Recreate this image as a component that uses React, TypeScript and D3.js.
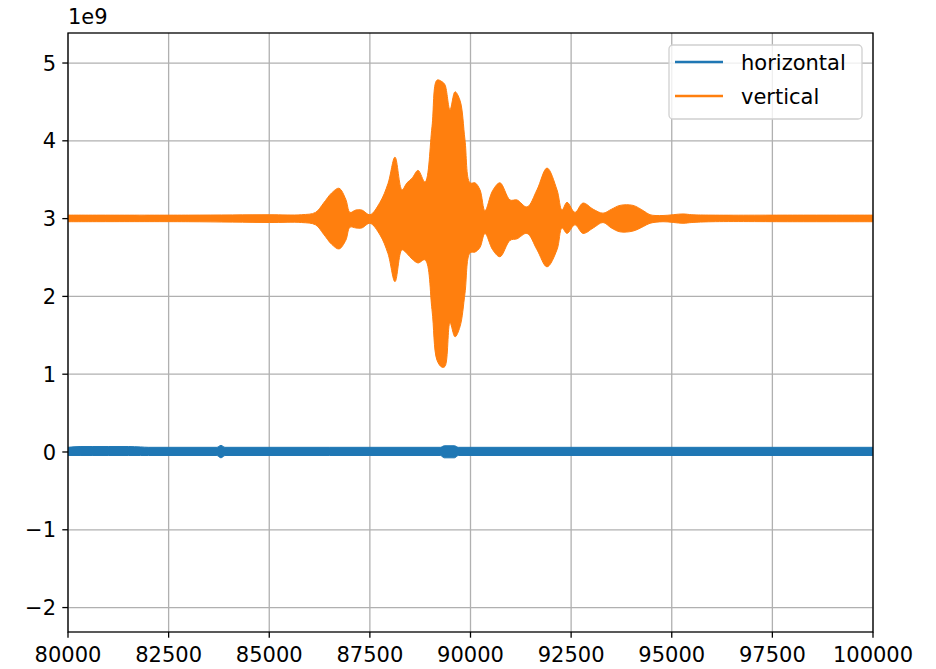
import React from "react";
import * as d3 from "d3";

const xTicks = [80000, 82500, 85000, 87500, 90000, 92500, 95000, 97500, 100000];
const yTicks = [-2, -1, 0, 1, 2, 3, 4, 5];

// vertical series envelope (units of 1e9)
const vTime = [80000, 83000, 85000, 85800, 86150, 86350, 86550, 86733, 86900, 87006, 87150, 87300, 87503, 87752, 87950, 88124, 88298, 88422, 88550, 88696, 88870, 89043, 89168, 89292, 89366, 89491, 89615, 89739, 89863, 89988, 90112, 90236, 90360, 90550, 90733, 90981, 91155, 91404, 91652, 91901, 92149, 92273, 92398, 92596, 92795, 93050, 93292, 93500, 93714, 94037, 94300, 94460, 94783, 95280, 95500, 96000, 98000, 100000];
const vUpper = [3.045, 3.045, 3.05, 3.05, 3.08, 3.20, 3.33, 3.39, 3.25, 3.08, 3.11, 3.11, 3.05, 3.21, 3.45, 3.79, 3.37, 3.46, 3.52, 3.62, 3.47, 4.18, 4.78, 4.76, 4.72, 4.40, 4.63, 4.52, 4.01, 3.46, 3.46, 3.37, 3.10, 3.36, 3.46, 3.24, 3.24, 3.15, 3.37, 3.65, 3.37, 3.11, 3.21, 3.08, 3.20, 3.12, 3.07, 3.12, 3.17, 3.17, 3.10, 3.05, 3.04, 3.06, 3.05, 3.045, 3.045, 3.045];
const vLower = [2.96, 2.96, 2.95, 2.95, 2.92, 2.80, 2.67, 2.61, 2.72, 2.89, 2.88, 2.88, 2.94, 2.79, 2.55, 2.19, 2.60, 2.55, 2.48, 2.43, 2.47, 1.83, 1.18, 1.09, 1.10, 1.66, 1.48, 1.61, 2.04, 2.56, 2.57, 2.63, 2.81, 2.60, 2.51, 2.72, 2.74, 2.81, 2.60, 2.38, 2.60, 2.88, 2.81, 2.92, 2.81, 2.88, 2.95, 2.88, 2.83, 2.84, 2.90, 2.94, 2.96, 2.94, 2.95, 2.96, 2.96, 2.96];

// horizontal series envelope (units of 1e9)
const hTime = [80000, 80300, 80600, 81000, 81500, 81800, 82000, 83700, 83800, 83900, 86500, 87500, 89250, 89350, 89600, 89700, 100000];
const hUpper = [0.06, 0.07, 0.07, 0.07, 0.07, 0.065, 0.06, 0.06, 0.085, 0.06, 0.06, 0.06, 0.06, 0.08, 0.08, 0.06, 0.06];
const hLower = [-0.045, -0.045, -0.045, -0.045, -0.045, -0.045, -0.045, -0.045, -0.075, -0.045, -0.045, -0.045, -0.045, -0.075, -0.075, -0.045, -0.045];

const seriesNames = ["horizontal", "vertical"];
const seriesColors = ["#1f77b4", "#ff7f0e"];

const W = 936, H = 669;
const m = { left: 68, right: 873, top: 33, bottom: 632 };
const FONT = "DejaVu Sans, sans-serif";
const FS = 21;

export default function App() {
  const x = d3.scaleLinear().domain([80000, 100000]).range([m.left, m.right]);
  const y = d3.scaleLinear().domain([-2.314, 5.386]).range([m.bottom, m.top]);

  const band = (t: number[], up: number[], lo: number[], curve: d3.CurveFactory) =>
    d3.area<number>()
      .x((_, i) => x(t[i]))
      .y0((_, i) => y(lo[i]))
      .y1((_, i) => y(up[i]))
      .curve(curve)(t) as string;

  const fmtY = (v: number) => (v < 0 ? "\u2212" + Math.abs(v) : String(v));

  return (
    <svg width={W} height={H} style={{ position: "absolute", left: 0, top: 0, background: "#fff" }}>
      <defs>
        <clipPath id="plot">
          <rect x={m.left} y={m.top} width={m.right - m.left} height={m.bottom - m.top} />
        </clipPath>
      </defs>
      <rect x={0} y={0} width={W} height={H} fill="#fff" />
      {xTicks.map((t) => (
        <line key={"gx" + t} x1={x(t)} x2={x(t)} y1={m.top} y2={m.bottom} stroke="#b0b0b0" strokeWidth={1.3} />
      ))}
      {yTicks.map((t) => (
        <line key={"gy" + t} x1={m.left} x2={m.right} y1={y(t)} y2={y(t)} stroke="#b0b0b0" strokeWidth={1.3} />
      ))}
      <g clipPath="url(#plot)">
        <path d={band(hTime, hUpper, hLower, d3.curveMonotoneX)} fill={seriesColors[0]} stroke={seriesColors[0]} strokeWidth={1} />
        <path d={band(vTime, vUpper, vLower, d3.curveCatmullRom.alpha(0.5))} fill={seriesColors[1]} stroke={seriesColors[1]} strokeWidth={1} />
      </g>
      <rect x={m.left} y={m.top} width={m.right - m.left} height={m.bottom - m.top} fill="none" stroke="#000" strokeWidth={1.3} />
      {xTicks.map((t) => (
        <g key={"tx" + t}>
          <line x1={x(t)} x2={x(t)} y1={m.bottom} y2={m.bottom + 5.7} stroke="#000" strokeWidth={1.3} />
          <text x={x(t)} y={m.bottom + 30} textAnchor="middle" fontFamily={FONT} fontSize={FS} fill="#000">{t}</text>
        </g>
      ))}
      {yTicks.map((t) => (
        <g key={"ty" + t}>
          <line x1={m.left - 5.7} x2={m.left} y1={y(t)} y2={y(t)} stroke="#000" strokeWidth={1.3} />
          <text x={m.left - 12} y={y(t)} dy="0.36em" textAnchor="end" fontFamily={FONT} fontSize={FS} fill="#000">{fmtY(t)}</text>
        </g>
      ))}
      <text x={m.left} y={m.top - 9} fontFamily={FONT} fontSize={FS} fill="#000">1e9</text>
      <g>
        <rect x={669} y={45} width={193} height={74} rx={4} fill="#fff" fillOpacity={0.8} stroke="#d0d0d0" strokeWidth={1.3} />
        {seriesNames.map((n, i) => (
          <g key={n}>
            <line x1={675} x2={723} y1={62 + i * 34} y2={62 + i * 34} stroke={seriesColors[i]} strokeWidth={2.4} />
            <text x={741} y={62 + i * 34} dy="0.36em" fontFamily={FONT} fontSize={FS} fill="#000">{n}</text>
          </g>
        ))}
      </g>
    </svg>
  );
}
